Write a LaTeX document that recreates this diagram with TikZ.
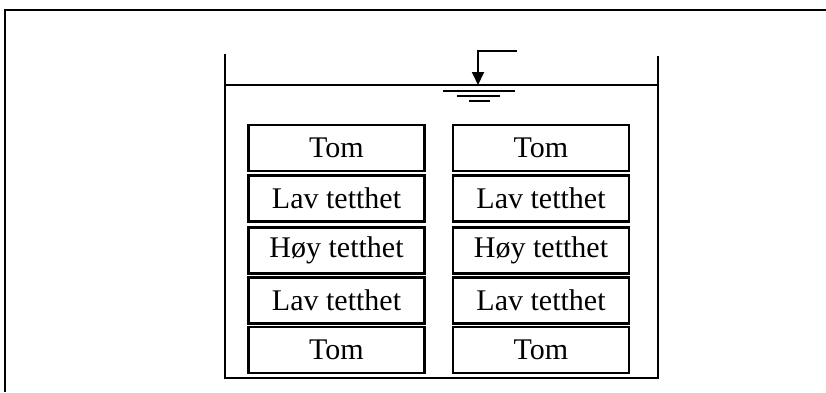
\documentclass[tikz,border=0pt]{standalone}
\usepackage{fontspec}
\setmainfont{Liberation Serif}
\usetikzlibrary{arrows.meta}
\begin{document}
\begin{tikzpicture}[x=1pt,y=-1pt,
  wall/.style={line width=2.2pt},
  layer/.style={draw,line width=2.2pt,minimum width=176pt,minimum height=46pt,
    inner sep=0pt,font=\fontsize{30}{35}\selectfont},
  level/.style={line width=1.4pt}]
\useasboundingbox (0,0) rectangle (826,392);
% frame (left and top edges)
\draw[line width=2.2pt] (5,392) -- (5,10) -- (826,10);
% tank
\coordinate (tl) at (225,54);
\coordinate (tr) at (658,56);
\coordinate (bl) at (225,378);
\coordinate (br) at (658,378);
\draw[wall] (tl) -- (bl) -- (br) -- (tr);
% water surface
\coordinate (wl) at (225,85);
\coordinate (wr) at (658,85);
\draw[line width=1.4pt] (wl) -- (wr);
% level marker
\coordinate (mk) at (478,85);
\coordinate (mc) at (478,51);
\coordinate (me) at (517,51);
\draw[line width=1.8pt,-{Triangle[length=13pt,width=12pt]}] (me) -- (mc) -- (mk);
\draw[level] (443,91) -- (515,91);
\draw[level] (457,96) -- (500,96);
\draw[level] (469,101) -- (490,101);
% layers
\foreach \y/\t [count=\i] in {148/Tom,198.5/Lav tetthet,250.5/Høy tetthet,300.5/Lav tetthet,350/Tom}{
  \node[layer] (l\i) at (336.5,\y) {\t};
  \node[layer] (r\i) at (541,\y) {\t};
}
\end{tikzpicture}
\end{document}
